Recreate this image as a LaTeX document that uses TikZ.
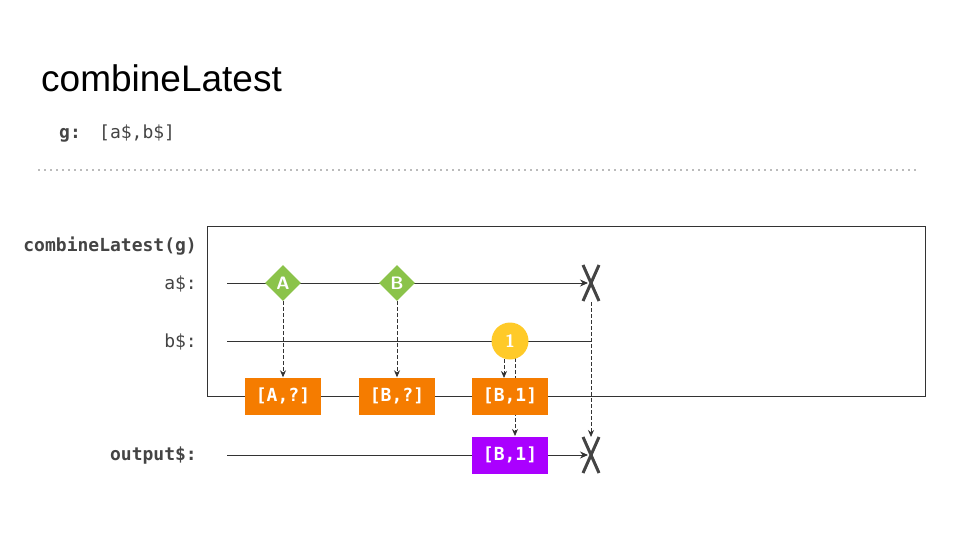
\documentclass[tikz,border=0pt]{standalone}
\usepackage{fontspec}
\setmainfont{Liberation Sans}
\setmonofont{DejaVu Sans Mono}
\usetikzlibrary{shapes.geometric,arrows.meta}
\definecolor{txtgrey}{HTML}{444444}
\definecolor{linegrey}{HTML}{333333}
\definecolor{dotgrey}{HTML}{BBBBBB}
\definecolor{evgreen}{HTML}{8BC34A}
\definecolor{evorange}{HTML}{F57C00}
\definecolor{evyellow}{HTML}{FFCA28}
\definecolor{evpurple}{HTML}{AA00FF}
\tikzset{
  x=1pt,y=-1pt,
  lbl/.style={anchor=east,inner sep=0pt,font=\fontsize{18}{18}\selectfont\ttfamily,text=txtgrey},
  blbl/.style={lbl,font=\fontsize{18}{18}\selectfont\ttfamily\bfseries},
  tline/.style={draw=linegrey,line width=0.9pt},
  diam/.style={diamond,fill=evgreen,minimum width=36pt,minimum height=36pt,inner sep=0pt,text=white,font=\fontsize{18}{18}\selectfont\sffamily\bfseries},
  circ/.style={circle,fill=evyellow,minimum size=37pt,inner sep=0pt,text=white,font=\fontsize{18}{18}\selectfont\sffamily\bfseries},
  obox/.style={rectangle,fill=evorange,minimum width=76pt,minimum height=37pt,inner sep=0pt,text=white,font=\fontsize{18}{18}\selectfont\ttfamily\bfseries},
  pbox/.style={obox,fill=evpurple},
  dasharrow/.style={draw=linegrey,line width=0.8pt,dash pattern=on 3.5pt off 2.5pt,-{Stealth[length=7pt,width=6pt]}},
  solarrow/.style={draw=linegrey,line width=0.9pt,-{Stealth[length=8pt,width=7pt]}},
  xmark/.style={draw=txtgrey,line width=3pt},
}
\begin{document}
\begin{tikzpicture}
\useasboundingbox (0,0) rectangle (960,540);
% title
\node[anchor=base west,inner sep=0pt,font=\fontsize{37}{37}\selectfont] (title) at (41,92) {combineLatest};
\node[anchor=base west,inner sep=0pt,font=\fontsize{18}{18}\selectfont\ttfamily\bfseries,text=txtgrey] (glbl) at (59,139) {g:};
\node[anchor=base west,inner sep=0pt,font=\fontsize{18}{18}\selectfont\ttfamily,text=txtgrey] (gval) at (99,139) {[a\$,b\$]};
\draw[dotgrey,line width=1.5pt,dash pattern=on 1.5pt off 4.5pt] (38,170) -- (920,170);
% frame
\draw[linegrey,line width=0.9pt] (207,226) rectangle (925,396);
% labels
\node[blbl] (cl) at (197,246) {combineLatest(g)};
\node[lbl] (alab) at (197,284) {a\$:};
\node[lbl] (blab) at (197,342) {b\$:};
\node[blbl] (olab) at (197,456) {output\$:};
% coordinates
\coordinate (as) at (227,283);
\coordinate (bs) at (227,341);
\coordinate (be) at (591,341);
\coordinate (os) at (227,455);
% a$ line
\draw[solarrow] (as) -- (588,283);
% b$ line
\draw[tline] (bs) -- (be);
% output line
\draw[solarrow] (os) -- (588,455);
% dashed from circle through orange box to output (behind)
\coordinate (c1b) at (515,358);
\coordinate (pt) at (515,436);
\draw[dasharrow] (c1b) -- (pt);
% events
\node[diam] (A) at (283,283) {A};
\node[diam] (B) at (397,283) {B};
\node[circ] (one) at (510,341) {1};
\node[obox] (bA) at (283,396) {[A,?]};
\node[obox] (bB) at (397,396) {[B,?]};
\node[obox] (bB1) at (510,396) {[B,1]};
\node[pbox] (out) at (510,455) {[B,1]};
% X marks
\draw[xmark] (583,265) -- (599,301) (599,265) -- (583,301);
\draw[xmark] (583,437) -- (599,473) (599,437) -- (583,473);
% dashed arrows
\draw[dasharrow] (A.south) -- (bA.north);
\draw[dasharrow] (B.south) -- (bB.north);
\coordinate (c1a) at (504,359);
\coordinate (b1t) at (504,378);
\draw[dasharrow] (c1a) -- (b1t);
\coordinate (axb) at (591,302);
\coordinate (oxt) at (591,437);
\draw[dasharrow] (axb) -- (oxt);
\end{tikzpicture}
\end{document}
